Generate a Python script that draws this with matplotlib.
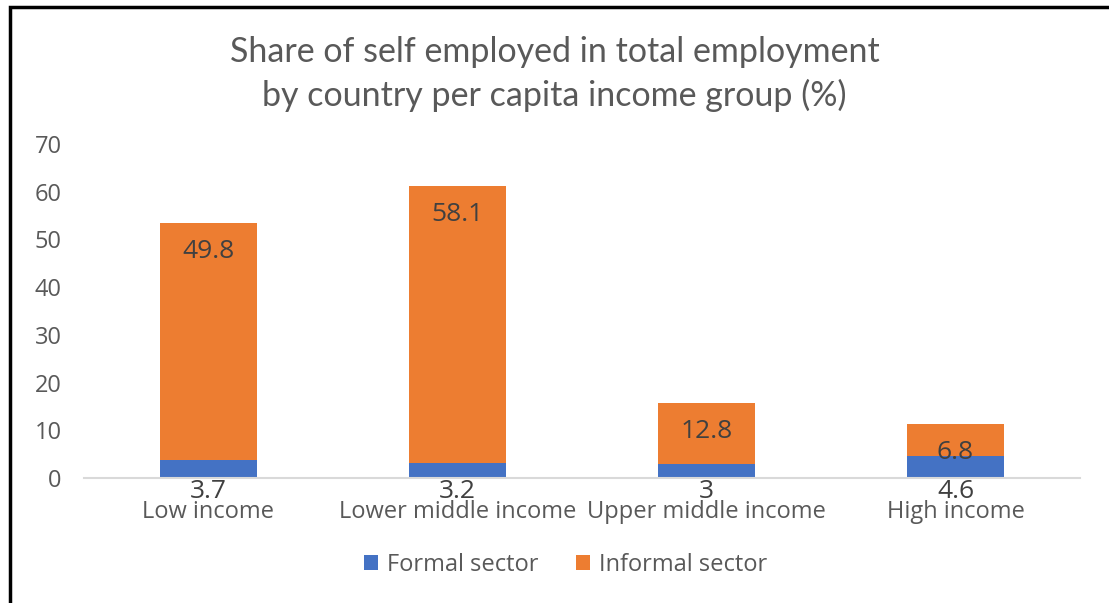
import matplotlib.pyplot as plt
from matplotlib.patches import Rectangle
import numpy as np

# data
groups = ['Low income', 'Lower middle income', 'Upper middle income', 'High income']
formal = [3.7, 3.2, 3.0, 4.6]
informal = [49.8, 58.1, 12.8, 6.8]
formal_labels = ['3.7', '3.2', '3', '4.6']
informal_labels = ['49.8', '58.1', '12.8', '6.8']

blue = '#4472C4'
orange = '#ED7D31'
grey = '#595959'

plt.rcParams['font.family'] = ['Open Sans', 'DejaVu Sans']

fig = plt.figure(figsize=(11.09, 6.03), dpi=100)
ax = fig.add_axes([84 / 1109, 1 - 478 / 603, 996 / 1109, 334 / 603])

x = np.arange(len(groups))
ax.bar(x, formal, width=0.39, color=blue, label='Formal sector', zorder=2)
ax.bar(x, informal, width=0.39, bottom=formal, color=orange, label='Informal sector', zorder=2)

ax.set_xlim(-0.5, 3.5)
ax.set_ylim(0, 70)
ax.set_yticks(range(0, 71, 10))
ax.set_xticks(x)
ax.set_xticklabels(groups)
ax.tick_params(axis='both', length=0, labelsize=17, colors=grey)
ax.tick_params(axis='x', pad=16)
ax.tick_params(axis='y', pad=16)
for s in ['top', 'right', 'left']:
    ax.spines[s].set_visible(False)
ax.spines['bottom'].set_color('#D9D9D9')
ax.spines['bottom'].set_linewidth(1.5)
ax.spines['bottom'].set_zorder(3)

# data labels
for i in range(len(groups)):
    top = formal[i] + informal[i]
    ax.annotate(informal_labels[i], (x[i], top), xytext=(0, -29), textcoords='offset pixels',
                ha='center', va='center', fontsize=19, color='#404040', zorder=4)
    ax.annotate(formal_labels[i], (x[i], 0), xytext=(0, -14), textcoords='offset pixels',
                ha='center', va='center', fontsize=19, color='#404040', zorder=4)

fig.text(0.5, 1 - 52 / 603, 'Share of self employed in total employment',
         ha='center', va='center', fontsize=24.5, color=grey, family=['Lato', 'DejaVu Sans'])
fig.text(0.5, 1 - 95 / 603, 'by country per capita income group (%)',
         ha='center', va='center', fontsize=24.5, color=grey, family=['Lato', 'DejaVu Sans'])

fig.legend(loc='center', bbox_to_anchor=(0.51, 1 - 565 / 603), ncol=2, frameon=False,
           fontsize=17, labelcolor=grey, handlelength=0.6, handleheight=0.6,
           handletextpad=0.4, columnspacing=1.55)

# frame of the chart area (left and top edges visible)
fig.patches.append(Rectangle((9.5 / 1109, -0.1), 1.2, 1 - 6.5 / 603 + 0.1,
                             transform=fig.transFigure, fill=False,
                             edgecolor='black', linewidth=2.5))

fig.savefig('out.png', dpi=100)
